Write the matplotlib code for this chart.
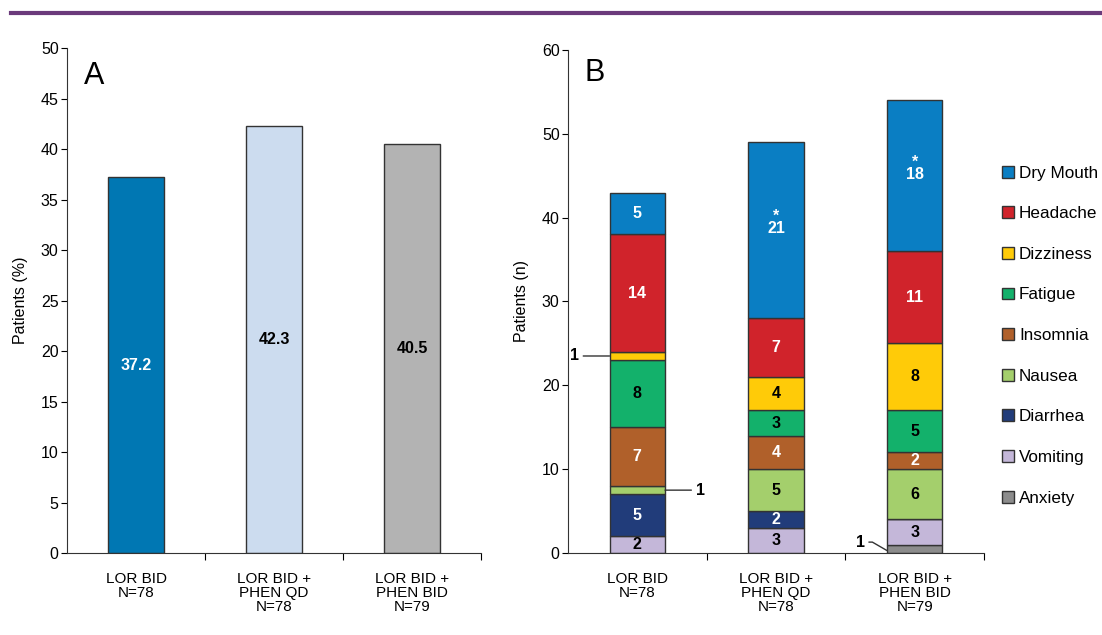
import numpy as np
import matplotlib
matplotlib.use('Agg')
import matplotlib.pyplot as plt
from matplotlib.patches import Patch
from matplotlib.lines import Line2D

plt.rcParams['font.family'] = ['Liberation Sans', 'DejaVu Sans']

groups = ['LOR BID\nN=78', 'LOR BID +\nPHEN QD\nN=78', 'LOR BID +\nPHEN BID\nN=79']

# panel A
pct = [37.2, 42.3, 40.5]
pct_colors = ['#0077b3', '#ccdcef', '#b3b3b3']
pct_text = ['white', 'black', 'black']

# panel B, stacked from bottom to top
events = ['Anxiety', 'Vomiting', 'Diarrhea', 'Nausea', 'Insomnia',
          'Fatigue', 'Dizziness', 'Headache', 'Dry Mouth']
counts = {
    'Anxiety':   [0, 0, 1],
    'Vomiting':  [2, 3, 3],
    'Diarrhea':  [5, 2, 0],
    'Nausea':    [1, 5, 6],
    'Insomnia':  [7, 4, 2],
    'Fatigue':   [8, 3, 5],
    'Dizziness': [1, 4, 8],
    'Headache':  [14, 7, 11],
    'Dry Mouth': [5, 21, 18],
}
ev_colors = {
    'Anxiety': '#8c8c8c', 'Vomiting': '#c4b7d9', 'Diarrhea': '#213c7a',
    'Nausea': '#a4cf6c', 'Insomnia': '#b0602a', 'Fatigue': '#13b16b',
    'Dizziness': '#ffcb08', 'Headache': '#d0232b', 'Dry Mouth': '#0a7ec3',
}
ev_text = {
    'Anxiety': 'black', 'Vomiting': 'black', 'Diarrhea': 'white',
    'Nausea': 'black', 'Insomnia': 'white', 'Fatigue': 'black',
    'Dizziness': 'black', 'Headache': 'white', 'Dry Mouth': 'white',
}
starred = [False, True, True]   # Dry Mouth significance

fig = plt.figure(figsize=(11.02, 6.35), dpi=100)
fig.add_artist(Line2D([0.01, 1.0], [0.979, 0.979], color='#6b3a7b', lw=3,
                      transform=fig.transFigure))

x = np.arange(3)

def style(ax, ymax, step):
    ax.set_xlim(-0.5, 2.5)
    ax.set_ylim(0, ymax)
    ax.set_yticks(np.arange(0, ymax + 1, step))
    ax.set_xticks([0.5, 1.5, 2.5])
    ax.set_xticklabels([])
    ax.set_xticks(x, minor=True)
    ax.set_xticklabels(groups, minor=True, fontsize=11, linespacing=1.0)
    ax.tick_params(axis='x', which='minor', length=0, pad=14)
    ax.tick_params(axis='x', which='major', length=5, direction='out')
    ax.tick_params(axis='y', length=4, labelsize=11.5, pad=2)
    for s in ['top', 'right']:
        ax.spines[s].set_visible(False)
    for s in ['left', 'bottom']:
        ax.spines[s].set_color('#333333')

# ---- A ----
axA = fig.add_axes([0.0608, 0.1291, 0.3757, 0.7953])
axA.bar(x, pct, width=0.4, color=pct_colors, edgecolor='#333333', lw=1)
for i, v in enumerate(pct):
    axA.text(i, v / 2, f'{v}', ha='center', va='center', fontsize=11.5,
             fontweight='bold', color=pct_text[i])
style(axA, 50, 5)
axA.set_ylabel('Patients (%)', fontsize=11.5, labelpad=9)
axA.text(0.04, 0.975, 'A', transform=axA.transAxes, fontsize=22, va='top')

# ---- B ----
axB = fig.add_axes([0.5154, 0.1291, 0.3775, 0.7922])
bottom = np.zeros(3)
for ev in events:
    vals = np.array(counts[ev], dtype=float)
    axB.bar(x, vals, width=0.4, bottom=bottom, color=ev_colors[ev],
            edgecolor='#333333', lw=1)
    for i, v in enumerate(vals):
        if v >= 2:
            yc = bottom[i] + v / 2
            label = f'{int(v)}'
            if ev == 'Dry Mouth' and starred[i]:
                # asterisk sits on its own line above the count
                label = '*\n' + label
                yc += 0.9
            axB.text(i, yc, label, ha='center', va='center',
                     fontsize=11.5, fontweight='bold', color=ev_text[ev],
                     linespacing=0.8)
    bottom += vals

# callouts for the thin one-patient segments
axB.annotate('1', xy=(-0.2, 23.5), xytext=(-0.42, 23.5), fontsize=11.5,
             fontweight='bold', ha='right', va='center',
             arrowprops=dict(arrowstyle='-', color='#333333', lw=1,
                             shrinkA=1, shrinkB=0))
axB.annotate('1', xy=(0.2, 7.5), xytext=(0.42, 7.5), fontsize=11.5,
             fontweight='bold', ha='left', va='center',
             arrowprops=dict(arrowstyle='-', color='#333333', lw=1,
                             shrinkA=1, shrinkB=0))
axB.annotate('1', xy=(1.8, 0.3), xytext=(1.64, 1.3), fontsize=11.5,
             fontweight='bold', ha='right', va='center',
             arrowprops=dict(arrowstyle='-', color='#333333', lw=1,
                             shrinkA=1, shrinkB=0,
                             connectionstyle='angle,angleA=0,angleB=-30,rad=0'))

style(axB, 60, 10)
axB.set_ylabel('Patients (n)', fontsize=11.5, labelpad=9)
axB.text(0.04, 0.985, 'B', transform=axB.transAxes, fontsize=22, va='top')

handles = [Patch(facecolor=ev_colors[e], edgecolor='#333333', lw=1)
           for e in events[::-1]]
fig.legend(handles, events[::-1], loc='upper left',
           bbox_to_anchor=(0.903, 0.75), frameon=False, fontsize=12.3,
           handlelength=0.7, handleheight=0.7, handletextpad=0.3,
           labelspacing=1.5, borderaxespad=0)

fig.savefig('out.png', dpi=100, facecolor='white')
